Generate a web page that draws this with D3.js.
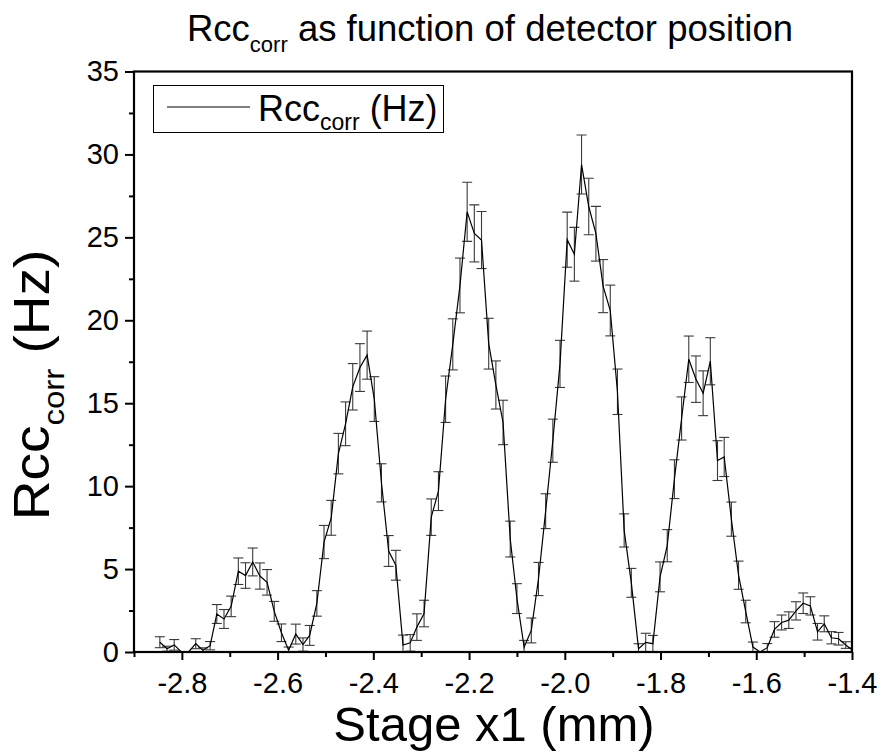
<!DOCTYPE html>
<html><head><meta charset="utf-8">
<script src="https://cdn.jsdelivr.net/npm/d3@7"></script>
<style>body{margin:0;background:#fff} text{font-family:"Liberation Sans",Arial,sans-serif;fill:#000}</style>
</head><body><svg id="c" width="882" height="755"></svg>
<script>
const stageX = [-2.846,-2.831,-2.816,-2.801,-2.786,-2.771,-2.756,-2.741,-2.727,-2.712,
 -2.697,-2.682,-2.667,-2.652,-2.637,-2.622,-2.607,-2.592,-2.577,-2.562,
 -2.547,-2.533,-2.518,-2.503,-2.488,-2.473,-2.458,-2.443,-2.428,-2.413,
 -2.398,-2.383,-2.368,-2.353,-2.338,-2.323,-2.309,-2.294,-2.279,-2.264,
 -2.249,-2.234,-2.219,-2.204,-2.189,-2.174,-2.159,-2.144,-2.129,-2.114,
 -2.100,-2.085,-2.070,-2.055,-2.040,-2.025,-2.010,-1.995,-1.980,-1.965,
 -1.950,-1.935,-1.920,-1.905,-1.890,-1.876,-1.861,-1.846,-1.831,-1.816,
 -1.801,-1.786,-1.771,-1.756,-1.741,-1.726,-1.711,-1.696,-1.681,-1.667,
 -1.652,-1.637,-1.622,-1.607,-1.592,-1.577,-1.562,-1.547,-1.532,-1.517,
 -1.502,-1.487,-1.472,-1.458,-1.443,-1.428,-1.413,-1.398];
const rcc = [0.59,0.2,0.43,0,0,0.5,0.1,0.38,2.29,1.99,
 2.75,4.87,4.61,5.43,4.58,4.2,2.45,1.16,0.1,1.08,
 0.45,1.0,2.93,6.63,8.09,11.96,13.76,15.99,17.15,17.9,
 15.25,10.2,6.09,5.23,0.42,0.55,1.5,2.32,8.13,9.7,
 15.24,18.55,22.1,26.54,25.24,24.84,18.59,16.1,13.84,6.81,
 3.22,0.3,1.3,4.4,8.49,12.74,17.37,24.86,23.98,29.39,
 26.86,25.22,22.06,20.59,15.69,7.33,4.17,0.2,0.58,0.5,
 4.53,6.41,10.42,14.08,17.65,16.45,15.6,17.53,11.54,11.76,
 8.01,4.63,2.44,0.3,0,0.26,1.36,1.78,1.92,2.48,
 2.94,2.78,1.22,1.7,0.86,0.8,0.42,0.1];
const rccErr = [0.33,0.15,0.32,0,0,0.3,0.15,0.25,0.57,0.57,
 0.62,0.8,0.77,0.84,0.79,0.77,0.6,0.53,0.2,0.6,
 0.4,0.6,0.77,1.0,1.05,1.22,1.32,1.4,1.44,1.45,
 1.35,1.15,0.93,0.9,0.6,0.5,0.8,0.8,1.1,1.17,
 1.4,1.54,1.65,1.78,1.72,1.72,1.53,1.45,1.34,1.08,
 0.9,0.4,0.75,1.0,1.05,1.3,1.42,1.66,1.62,1.78,
 1.7,1.65,1.6,1.53,1.37,1.0,0.87,0.3,0.55,0.5,
 0.9,0.97,1.17,1.3,1.4,1.4,1.35,1.42,1.2,1.18,
 1.03,0.85,0.68,0.3,0,0.25,0.47,0.45,0.5,0.55,
 0.62,0.55,0.5,0.48,0.37,0.38,0.2,0.15];
const xTicks = [-2.8,-2.6,-2.4,-2.2,-2.0,-1.8,-1.6,-1.4];
const xMinor = [-2.9,-2.7,-2.5,-2.3,-2.1,-1.9,-1.7,-1.5];
const yTicks = [0,5,10,15,20,25,30,35];
const yMinor = [2.5,7.5,12.5,17.5,22.5,27.5,32.5];

const data = stageX.map((x,i)=>({x, y:rcc[i], e:rccErr[i]}));
const svg = d3.select("#c");
const L=134, R=852, T=71.5, B=652;
const x = d3.scaleLinear().domain([-2.9,-1.4]).range([L,R]);
const y = d3.scaleLinear().domain([0,35]).range([B,T]);

svg.append("defs").append("clipPath").attr("id","clip")
  .append("rect").attr("x",L).attr("y",T).attr("width",R-L).attr("height",B-T);

const plot = svg.append("g").attr("clip-path","url(#clip)");
const eb = plot.append("g").attr("stroke","#3a3a3a").attr("stroke-width",1.1).attr("fill","none");
data.filter(d=>d.e>0).forEach(d=>{
  const cx = x(d.x), y1 = y(d.y+d.e), y0 = y(d.y-d.e);
  eb.append("line").attr("x1",cx).attr("x2",cx).attr("y1",y1).attr("y2",y0);
  eb.append("line").attr("x1",cx-5).attr("x2",cx+5).attr("y1",y1).attr("y2",y1);
  eb.append("line").attr("x1",cx-5).attr("x2",cx+5).attr("y1",y0).attr("y2",y0);
});
plot.append("path").datum(data)
  .attr("d", d3.line().x(d=>x(d.x)).y(d=>y(d.y)))
  .attr("fill","none").attr("stroke","#000").attr("stroke-width",1.2);

const fmt = d => d.toFixed(1);
svg.append("g").attr("transform",`translate(0,${B})`)
  .call(d3.axisBottom(x).tickValues(xTicks).tickSize(8).tickPadding(12).tickFormat(fmt));
svg.append("g").attr("transform",`translate(0,${B})`)
  .call(d3.axisBottom(x).tickValues(xMinor).tickSize(5).tickFormat(""));
svg.append("g").attr("transform",`translate(${L},0)`)
  .call(d3.axisLeft(y).tickValues(yTicks).tickSize(9).tickPadding(6).tickFormat(d3.format("d")));
svg.append("g").attr("transform",`translate(${L},0)`)
  .call(d3.axisLeft(y).tickValues(yMinor).tickSize(5).tickFormat(""));
svg.selectAll(".domain").remove();
svg.selectAll(".tick line").attr("stroke","#000").attr("stroke-width",2);
svg.selectAll(".tick text").attr("font-size",29).attr("fill","#000");

svg.append("rect").attr("x",L).attr("y",T).attr("width",R-L).attr("height",B-T)
  .attr("fill","none").attr("stroke","#000").attr("stroke-width",2.2);

// title
const tt = svg.append("text").attr("x",490).attr("y",41).attr("text-anchor","middle").attr("font-size",36.5);
tt.append("tspan").text("Rcc");
tt.append("tspan").attr("font-size",22).attr("dy",11).text("corr");
tt.append("tspan").attr("dy",-11).text(" as function of detector position");

// x title
svg.append("text").attr("x",494).attr("y",741).attr("text-anchor","middle").attr("font-size",49).text("Stage x1 (mm)");

// y title
const yt = svg.append("text").attr("transform","translate(49,385) rotate(-90) scale(1.1,1)").attr("text-anchor","middle").attr("font-size",50);
yt.append("tspan").text("Rcc");
yt.append("tspan").attr("font-size",30).attr("dy",15).text("corr");
yt.append("tspan").attr("dy",-15).text(" (Hz)");

// legend
const lg = svg.append("g");
lg.append("rect").attr("x",153.5).attr("y",85.5).attr("width",290).attr("height",47)
  .attr("fill","#fff").attr("stroke","#000").attr("stroke-width",1);
lg.append("line").attr("x1",167).attr("x2",250).attr("y1",107).attr("y2",107).attr("stroke","#000").attr("stroke-width",1.1);
const lt = lg.append("text").attr("x",258).attr("y",121).attr("font-size",36);
lt.append("tspan").text("Rcc");
lt.append("tspan").attr("font-size",23).attr("dy",9).text("corr");
lt.append("tspan").attr("dy",-9).text(" (Hz)");
</script></body></html>
